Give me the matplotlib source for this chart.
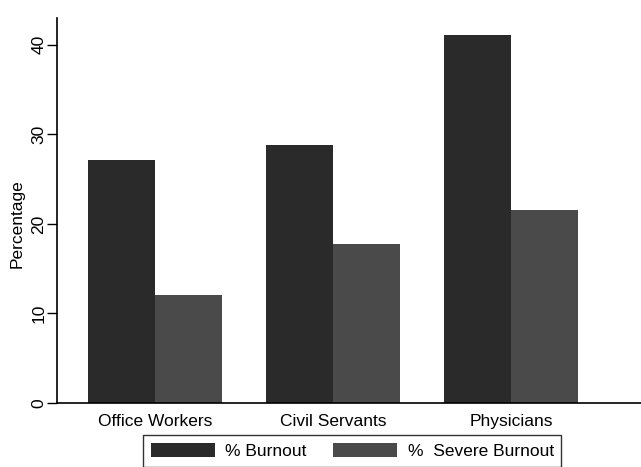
import numpy as np
import matplotlib
matplotlib.use("Agg")
import matplotlib.pyplot as plt

groups = ["Office Workers", "Civil Servants", "Physicians"]
burnout = [27.1, 28.8, 41.1]
severe_burnout = [12.1, 17.8, 21.6]
yticks = [0, 10, 20, 30, 40]

plt.rcParams["font.family"] = ["Liberation Sans", "DejaVu Sans"]
plt.rcParams["font.size"] = 12.5

fig = plt.figure(figsize=(6.41, 4.67), dpi=100)
ax = fig.add_axes([57 / 641, 1 - 403 / 467, 1 - 57 / 641, (403 - 18) / 467])

x = np.arange(len(groups))
w = 0.376
ax.bar(x - w / 2, burnout, width=w, color="#2a2a2a", label="% Burnout")
ax.bar(x + w / 2, severe_burnout, width=w, color="#4a4a4a", label="%  Severe Burnout")

ax.set_xlim(-0.55, 2.73)
ax.set_ylim(0, 43)
ax.set_xticks(x)
ax.set_xticklabels(groups)
ax.tick_params(axis="x", length=0, pad=8)
ax.set_yticks(yticks)
ax.tick_params(axis="y", length=7, width=1, pad=0.5)
for lbl in ax.get_yticklabels():
    lbl.set_rotation(90)
    lbl.set_va("center")

ax.set_ylabel("Percentage")
ax.yaxis.set_label_coords(-0.055, 0.465)

for side in ["top", "right"]:
    ax.spines[side].set_visible(False)
ax.spines["left"].set_linewidth(1.2)
ax.spines["bottom"].set_linewidth(1.2)

leg = fig.legend(loc="upper left", bbox_to_anchor=(143 / 641, 1 - 435 / 467),
                 ncol=2, frameon=True, fancybox=False, handlelength=3.7,
                 handleheight=0.87, handletextpad=0.6, columnspacing=1.5,
                 borderpad=0.45, borderaxespad=0)
leg.get_frame().set_edgecolor("black")
leg.get_frame().set_linewidth(1)

fig.savefig("out.png", dpi=100)
